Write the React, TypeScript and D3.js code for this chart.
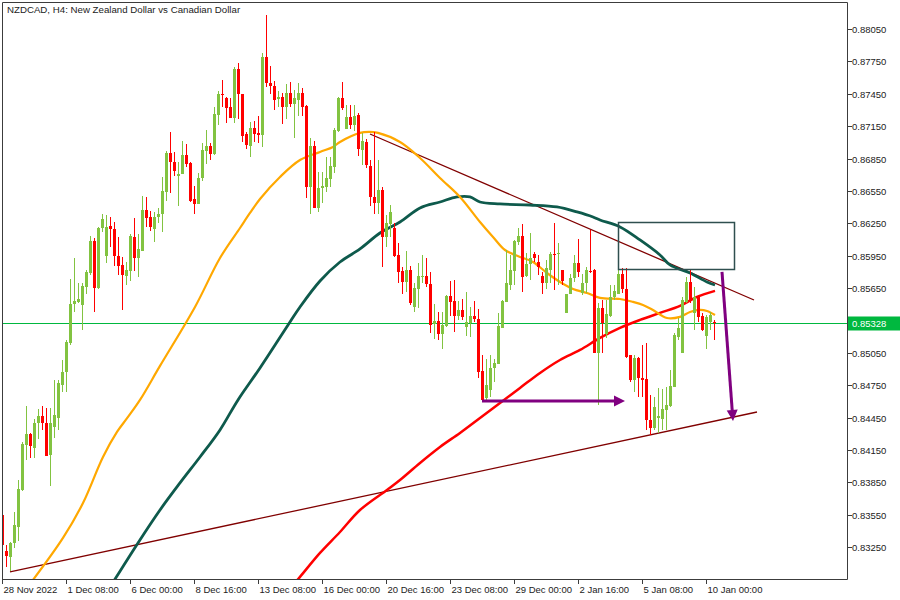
import * as d3 from 'd3'

// H4 NZDCAD, prices in points (1 point = 0.00001)
const OPEN = [
  83547, 83213, 83158, 83288, 83436, 83779, 84196, 84298, 84168, 84399, 84464, 84399, 84103, 84362, 84446, 84752,
  84872, 85141, 85502, 85521, 85493, 85660, 85789, 86086, 85650, 86206, 85947, 86225, 86197, 85947, 85864, 85762,
  85808, 86123, 85928, 85993, 86373, 86308, 86197, 86308, 86336, 86540, 86901, 86818, 86688, 86707, 86883, 86809,
  86475, 86429, 86670, 86920, 86966, 86892, 87253, 87448, 87411, 87328, 87226, 87680, 87448, 87077, 86966, 87133,
  87087, 87068, 87791, 87550, 87522, 87402, 87420, 87328, 87457, 87355, 87392, 87457, 87337, 86586, 86966, 86392,
  86577, 86586, 86660, 86772, 87105, 87411, 87124, 87235, 87161, 87253, 86929, 87003, 86781, 86494, 86438, 86558,
  86123, 86243, 86206, 85956, 85808, 85706, 85817, 85474, 85641, 85752, 85762, 85687, 85317, 85345, 85224, 85298,
  85576, 85530, 85391, 85447, 85289, 85326, 85391, 85363, 84881, 84631, 84705, 84909, 84946, 85280, 85521, 85678,
  85808, 86077, 86132, 85762, 85873, 85965, 85891, 85762, 85697, 85817, 85965, 85965, 85817, 85419, 85595, 85743,
  85882, 85604, 85697, 85808, 85817, 85048, 85465, 85224, 85391, 85567, 85595, 85780, 85641, 85030, 84798, 85002,
  84816, 84807, 84427, 84353, 84446, 84436, 84520, 84557, 84733, 85196, 85048, 85521, 85706, 85419, 85567, 85391,
  85206, 85335, 85335,
]
const HIGH = [
  83593, 83269, 83297, 83575, 83871, 84223, 84557, 84307, 84436, 84529, 84557, 84539, 84539, 84798, 84798, 84983,
  85169, 85734, 85928, 85697, 85697, 85817, 86132, 86114, 86216, 86336, 86327, 86308, 86262, 86123, 85938, 85891,
  86151, 86299, 86151, 86503, 86494, 86364, 86355, 86392, 86679, 86920, 87096, 86911, 86818, 87012, 86985, 86818,
  86596, 86716, 86994, 87114, 86994, 87328, 87476, 87578, 87420, 87411, 87698, 87735, 87448, 87096, 87189, 87198,
  87244, 87828, 88180, 87707, 87568, 87476, 87457, 87541, 87559, 87485, 87550, 87504, 87346, 87040, 87012, 86725,
  86725, 86864, 86864, 87133, 87420, 87559, 87346, 87346, 87346, 87272, 87087, 87031, 86836, 87096, 86836, 86586,
  86327, 86419, 86253, 86067, 85845, 85993, 85854, 85697, 85882, 85956, 85928, 85799, 85502, 85428, 85428, 85586,
  85715, 85725, 85530, 85548, 85613, 85474, 85530, 85456, 85030, 84993, 85030, 84993, 85419, 85539, 86002, 85956,
  86095, 86206, 86243, 85975, 86160, 85984, 85956, 85799, 85910, 85984, 86253, 86067, 85817, 85595, 85780, 85956,
  86104, 85780, 85845, 86188, 85826, 85511, 85539, 85539, 85678, 85678, 85836, 85836, 85836, 85030, 85030, 85011,
  85122, 85141, 84659, 84640, 84724, 84715, 84733, 84891, 85233, 85372, 85567, 85752, 85817, 85660, 85586, 85419,
  85400, 85428, 85354,
]
const LOW = [
  83084, 83065, 83028, 83241, 83306, 83769, 84057, 84075, 84075, 84251, 84335, 84094, 83816, 84260, 84335, 84687,
  84687, 85122, 85428, 85511, 85261, 85595, 85771, 85428, 85641, 86169, 85882, 86030, 85854, 85771, 85447, 85678,
  85715, 85808, 85752, 85993, 86216, 86179, 86077, 86253, 86169, 86457, 86531, 86688, 86410, 86707, 86772, 86447,
  86336, 86429, 86642, 86799, 86836, 86883, 87161, 87328, 87179, 87226, 87179, 87216, 87003, 86938, 86864, 87003,
  86994, 86957, 87513, 87448, 87300, 87328, 87170, 87216, 87328, 87040, 87244, 87244, 86484, 86336, 86392, 86355,
  86438, 86540, 86586, 86716, 87096, 87300, 87124, 87124, 87105, 86874, 86790, 86762, 86410, 86336, 86336, 85845,
  86030, 86123, 85938, 85697, 85595, 85613, 85493, 85428, 85465, 85697, 85660, 85233, 85178, 85169, 85085, 85289,
  85391, 85243, 85354, 85354, 85206, 85196, 85335, 84816, 84603, 84613, 84640, 84779, 84946, 85280, 85521, 85632,
  85678, 86049, 85613, 85752, 85725, 85891, 85771, 85595, 85641, 85697, 85632, 85678, 85678, 85419, 85595, 85706,
  85752, 85586, 85604, 85789, 85048, 84566, 85048, 85187, 85382, 85539, 85595, 85604, 85002, 84779, 84687, 84640,
  84640, 84335, 84288, 84335, 84307, 84335, 84335, 84548, 84733, 85169, 85048, 85511, 85511, 85261, 85335, 85252,
  85085, 85261, 85169,
]
const CLOSE = [
  83269, 83167, 83288, 83454, 83788, 84205, 84298, 84186, 84399, 84464, 84399, 84094, 84399, 84474, 84770, 84872,
  85150, 85502, 85530, 85548, 85669, 85799, 86086, 85650, 86206, 86290, 86216, 86197, 85947, 85854, 85771, 85817,
  86132, 85928, 86012, 86373, 86299, 86216, 86308, 86336, 86549, 86901, 86818, 86735, 86707, 86883, 86799, 86457,
  86429, 86670, 86929, 86966, 86892, 87263, 87448, 87439, 87318, 87226, 87680, 87448, 87059, 86975, 87133, 87077,
  87068, 87791, 87550, 87522, 87392, 87420, 87328, 87457, 87355, 87411, 87457, 87328, 86586, 86966, 86392, 86577,
  86596, 86670, 86781, 87114, 87411, 87318, 87235, 87161, 87244, 86938, 87012, 86790, 86494, 86438, 86558, 86123,
  86253, 86355, 85947, 85799, 85706, 85817, 85511, 85650, 85762, 85762, 85687, 85308, 85345, 85224, 85308, 85576,
  85521, 85391, 85447, 85382, 85335, 85391, 85363, 84872, 84613, 84752, 84909, 84955, 85298, 85530, 85697, 85817,
  86086, 86132, 85752, 85873, 85928, 85928, 85845, 85697, 85836, 85965, 85956, 85975, 85715, 85595, 85743, 85882,
  85799, 85697, 85817, 85799, 85048, 85465, 85326, 85410, 85567, 85623, 85780, 85641, 85011, 84798, 85002, 84816,
  84798, 84427, 84353, 84548, 84464, 84529, 84566, 84742, 85215, 85280, 85539, 85706, 85539, 85567, 85382, 85261,
  85382, 85400, 85326,
]

// moving averages: [bar index, price]
const MA_FAST: [number, number][] = [
  [7, 82908], [15.25, 83334], [20.25, 83658], [25.25, 84084], [28.75, 84316], [31.5, 84455], [34.5, 84613],
  [39.5, 84928], [48.25, 85474], [54.5, 85928], [59.5, 86206], [62, 86345], [64.5, 86475], [69.5, 86679],
  [74.5, 86836], [79.5, 86911], [82.75, 86957], [84.5, 87003], [89.5, 87087], [91.75, 87096], [94, 87087],
  [99.5, 87003], [104.5, 86855], [109.5, 86670], [114.5, 86494], [119.5, 86262], [122.75, 86123], [125.75, 86002],
  [129.5, 85938], [132.75, 85891], [136.25, 85789], [139.5, 85706], [142.75, 85641], [146.25, 85604], [149.5, 85558],
  [154.5, 85548], [157.75, 85521], [160.25, 85493], [162.75, 85447], [166.25, 85372], [169.5, 85382], [172, 85428],
  [174.5, 85447], [176.25, 85437], [178.25, 85400],
]
const MA_MID: [number, number][] = [
  [27.5, 82908], [34, 83288], [39.5, 83593], [44.5, 83844], [49.5, 84084], [54.5, 84335], [59, 84613],
  [64.5, 84909], [72, 85335], [74.5, 85474], [79.5, 85715], [84.5, 85891], [89.5, 86012], [94.5, 86160],
  [99.5, 86262], [104.5, 86392], [109.5, 86447], [113.75, 86494], [117, 86494], [119.5, 86447], [124.5, 86429],
  [132, 86419], [138.75, 86401], [143.75, 86355], [147.75, 86308], [149.5, 86280], [154.5, 86216], [159.5, 86095],
  [164.5, 85956], [167, 85864], [172, 85789], [176.25, 85706], [178.25, 85678],
]
const MA_SLOW: [number, number][] = [
  [73, 82908], [74.5, 82973], [79.5, 83195], [84.5, 83389], [89.5, 83593], [96.25, 83779], [99.5, 83871],
  [104.5, 84029], [109.5, 84177], [114.5, 84307], [119.5, 84446], [124.5, 84585], [129.5, 84724], [134.5, 84863],
  [139.5, 84983], [144.5, 85076], [149.5, 85187], [154.5, 85280], [159.5, 85354], [164.5, 85419], [169.5, 85484],
  [173.75, 85567], [178.25, 85623],
]

// drawn objects: [bar index, price]
const TREND_UP: [number, number][] = [[2, 83019], [188.75, 84501]]
const TREND_DOWN: [number, number][] = [[92, 87077], [188, 85539]]
const ZONE: [number, number][] = [[154, 86262], [183, 85826]]
const ARROW_FLAT: [number, number][] = [[120, 84603], [155.75, 84603]]
const ARROW_DOWN: [number, number][] = [[180, 85799], [182.75, 84418]]

const LAST_PRICE = 85328
const Y_TICKS = [88050, 87750, 87450, 87150, 86850, 86550, 86250, 85950, 85650, 85050, 84750, 84450, 84150, 83850, 83550, 83250]
const X_TICKS = [0, 16, 32, 48, 64, 80, 96, 112, 128, 144, 160, 176]
const X_LABELS = [
  '28 Nov 2022', '1 Dec 08:00', '6 Dec 00:00', '8 Dec 16:00', '13 Dec 08:00', '16 Dec 00:00',
  '20 Dec 16:00', '23 Dec 08:00', '29 Dec 00:00', '2 Jan 16:00', '5 Jan 08:00', '10 Jan 00:00',
]

const PLOT = { left: 2, top: 2, right: 847, bottom: 579 }
const FONT = '"Liberation Sans", Arial, sans-serif'
const UP = '#82c341'
const DOWN = '#ff0000'
const PRICE_LINE = '#00b83f'
const AXIS = '#3c3c3c'

const x = d3.scaleLinear().domain([0, 211.25]).range([PLOT.left, PLOT.right])
const y = d3.scaleLinear().domain([83250, 88050]).range([547, 29])

const fmt = (p: number) => (p / 100000).toFixed(5)

function maPath(pts: [number, number][]) {
  return d3
    .line<[number, number]>()
    .x((d) => x(d[0]))
    .y((d) => y(d[1]))
    .curve(d3.curveCatmullRom.alpha(0.5))(pts) as string
}

function arrowHead(from: [number, number], to: [number, number], len: number, half: number) {
  const x1 = x(from[0])
  const y1 = y(from[1])
  const x2 = x(to[0])
  const y2 = y(to[1])
  const dx = x2 - x1
  const dy = y2 - y1
  const n = Math.hypot(dx, dy)
  const ux = dx / n
  const uy = dy / n
  const bx = x2 - ux * len
  const by = y2 - uy * len
  return `M${x2},${y2}L${bx - uy * half},${by + ux * half}L${bx + uy * half},${by - ux * half}Z`
}

function Candles() {
  return (
    <g>
      {OPEN.map((o, i) => {
        const c = CLOSE[i]
        const cx = Math.round(x(i))
        const color = c >= o ? UP : DOWN
        const top = Math.round(y(Math.max(o, c)))
        const bot = Math.round(y(Math.min(o, c)))
        return (
          <g key={i}>
            <rect x={cx} y={Math.round(y(HIGH[i]))} width={1} height={Math.max(1, Math.round(y(LOW[i])) - Math.round(y(HIGH[i])))} fill={color} />
            <rect x={cx - 1} y={top} width={3} height={Math.max(1, bot - top)} fill={color} />
          </g>
        )
      })}
    </g>
  )
}

export default function App() {
  const lastY = Math.round(y(LAST_PRICE)) + 0.5
  const flatEnd: [number, number] = ARROW_FLAT[1]
  const flatShaftEnd = x.invert(x(flatEnd[0]) - 8)
  const downShaft: [number, number] = [
    ARROW_DOWN[0][0] + (ARROW_DOWN[1][0] - ARROW_DOWN[0][0]) * 0.93,
    ARROW_DOWN[0][1] + (ARROW_DOWN[1][1] - ARROW_DOWN[0][1]) * 0.93,
  ]
  return (
    <svg
      width={900}
      height={600}
      style={{ position: 'absolute', left: 0, top: 0, display: 'block', background: '#fff' }}
      fontFamily={FONT}
    >
      <defs>
        <clipPath id="plot">
          <rect x={PLOT.left + 1} y={PLOT.top + 1} width={PLOT.right - PLOT.left - 1} height={PLOT.bottom - PLOT.top - 1} />
        </clipPath>
      </defs>

      <g clipPath="url(#plot)">
        <line x1={PLOT.left} x2={PLOT.right} y1={lastY} y2={lastY} stroke={PRICE_LINE} strokeWidth={1.2} />

        <line
          x1={x(TREND_UP[0][0])} y1={y(TREND_UP[0][1])} x2={x(TREND_UP[1][0])} y2={y(TREND_UP[1][1])}
          stroke="#800000" strokeWidth={1.3}
        />
        <line
          x1={x(TREND_DOWN[0][0])} y1={y(TREND_DOWN[0][1])} x2={x(TREND_DOWN[1][0])} y2={y(TREND_DOWN[1][1])}
          stroke="#800000" strokeWidth={1.3}
        />

        <path d={maPath(MA_SLOW)} fill="none" stroke="#ff0000" strokeWidth={2.5} />
        <path d={maPath(MA_MID)} fill="none" stroke="#0e5a4c" strokeWidth={2.8} />
        <path d={maPath(MA_FAST)} fill="none" stroke="#ffa800" strokeWidth={2.2} />

        <Candles />

        <rect
          x={Math.round(x(ZONE[0][0])) + 0.5}
          y={Math.round(y(ZONE[0][1])) + 0.5}
          width={Math.round(x(ZONE[1][0]) - x(ZONE[0][0]))}
          height={Math.round(y(ZONE[1][1]) - y(ZONE[0][1]))}
          fill="none" stroke="#2f4f4f" strokeWidth={1.5}
        />

        <line
          x1={x(ARROW_FLAT[0][0])} y1={y(ARROW_FLAT[0][1])} x2={x(flatShaftEnd)} y2={y(flatEnd[1])}
          stroke="#800080" strokeWidth={3}
        />
        <path d={arrowHead(ARROW_FLAT[0], ARROW_FLAT[1], 11, 5.5)} fill="#800080" />
        <line
          x1={x(ARROW_DOWN[0][0])} y1={y(ARROW_DOWN[0][1])} x2={x(downShaft[0])} y2={y(downShaft[1])}
          stroke="#800080" strokeWidth={3}
        />
        <path d={arrowHead(ARROW_DOWN[0], ARROW_DOWN[1], 11, 5.5)} fill="#800080" />
      </g>

      {/* frame */}
      <path
        d={`M${PLOT.left + 0.5},${PLOT.bottom}V${PLOT.top + 0.5}H${PLOT.right + 0.5}V${PLOT.bottom + 0.5}H${PLOT.left}`}
        fill="none" stroke={AXIS} strokeWidth={1}
      />

      {/* price axis */}
      {Y_TICKS.map((t) => {
        const ty = Math.round(y(t)) + 0.5
        return (
          <g key={t}>
            <line x1={PLOT.right + 1} x2={PLOT.right + 5} y1={ty} y2={ty} stroke={AXIS} />
            <text x={PLOT.right + 5} y={ty} dy="0.35em" fontSize={9.5} fill="#222">
              {fmt(t)}
            </text>
          </g>
        )
      })}
      <rect x={PLOT.right + 1} y={lastY - 7} width={52} height={14} fill={PRICE_LINE} />
      <text x={PLOT.right + 5} y={lastY} dy="0.35em" fontSize={9.5} fill="#fff">
        {fmt(LAST_PRICE)}
      </text>

      {/* time axis */}
      {X_TICKS.map((t, i) => {
        const tx = Math.round(x(t)) + 0.5
        return (
          <g key={t}>
            <line x1={tx} x2={tx} y1={PLOT.bottom} y2={PLOT.bottom + 5} stroke={AXIS} />
            <text x={tx + 1} y={593} fontSize={9.5} fill="#222">
              {X_LABELS[i]}
            </text>
          </g>
        )
      })}

      <text x={7} y={13} fontSize={9.7} fill="#222">
        NZDCAD, H4:  New Zealand Dollar vs Canadian Dollar
      </text>
    </svg>
  )
}
